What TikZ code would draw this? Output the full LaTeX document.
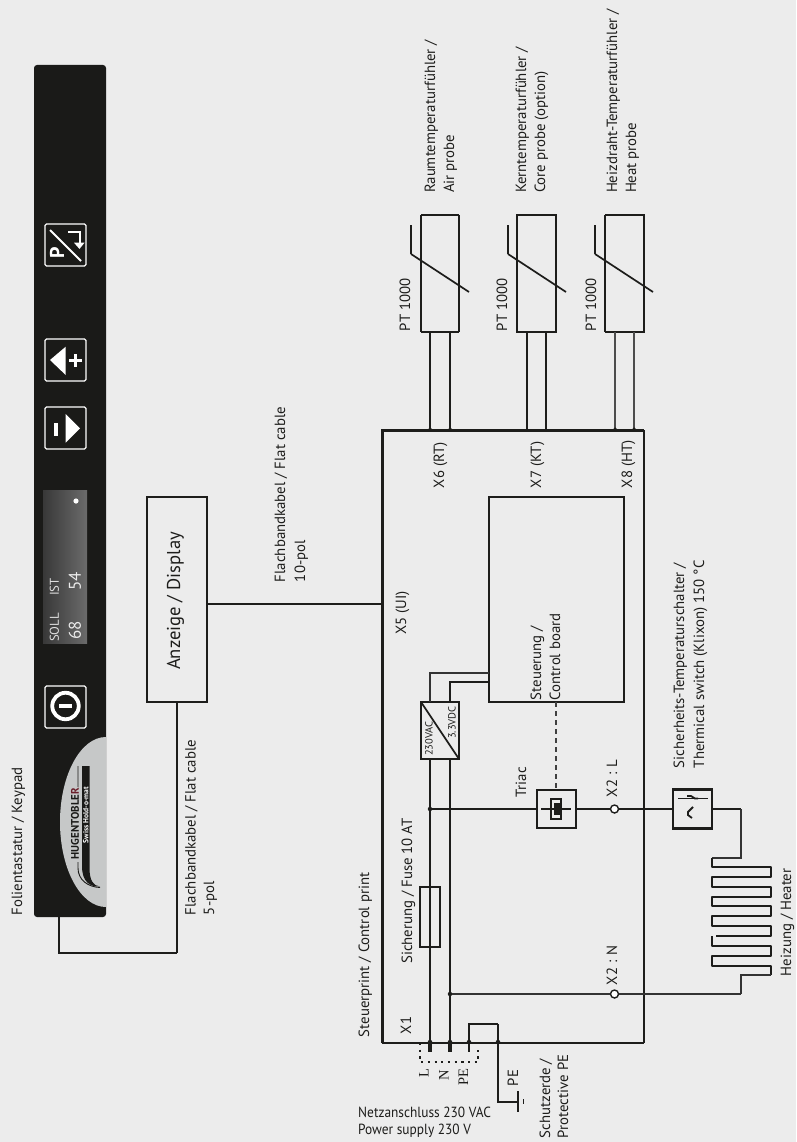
\documentclass[tikz,border=0pt]{standalone}
\usepackage{fontspec}
\setmainfont{PT Sans}
\newfontfamily\serifX{Liberation Serif}
\newfontfamily\condf[FakeStretch=0.91]{PT Sans}
\usetikzlibrary{calc}
\definecolor{bgc}{HTML}{ECECEC}
\definecolor{ink}{HTML}{1D1D1B}
\definecolor{panel}{HTML}{1A1A18}
\definecolor{logoc}{HTML}{C6C8C8}
\tikzset{
  lbl/.style={rotate=90,anchor=west,inner sep=0pt,outer sep=0pt,text=ink,font=\fontsize{14.8}{16}\selectfont,text height=10pt,text depth=2pt},
  lblc/.style={lbl,anchor=center},
  thin wire/.style={draw=ink,line width=1.15pt},
  mid wire/.style={draw=ink,line width=1.9pt},
  thick wire/.style={draw=ink,line width=2.6pt},
  boxn/.style={draw=ink,line width=2.3pt,inner sep=0pt,outer sep=0pt,anchor=north west,fill=none},
  dot/.style={circle,fill=ink,inner sep=0pt,minimum size=4.5pt},
  term/.style={circle,draw=ink,fill=white,line width=1.4pt,inner sep=0pt,minimum size=8pt},
  btn/.style={draw=white,line width=1.1pt,rounded corners=1.5pt,fill=none,inner sep=0pt,outer sep=0pt,anchor=north west,minimum width=41pt,minimum height=42pt},
}
\begin{document}
\begin{tikzpicture}[x=1pt,y=-1pt]
\useasboundingbox (0,0) rectangle (796,1142);
\fill[bgc] (0,0) rectangle (796,1142);

% ---- keypad
\node[fill=panel,rounded corners=3pt,inner sep=0pt,outer sep=0pt,anchor=north west,minimum width=72pt,minimum height=852pt] (keypad) at (34,65) {};
\begin{scope}
\clip (34,65) rectangle (106,917);
\fill[logoc] (106,822) ellipse [x radius=46,y radius=85];
\fill[panel] (82,766) -- (89.5,766) -- (89.5,868) .. controls (89.5,880) and (93,886) .. (100,886.5) .. controls (90,887) and (82,882) .. (82,866) -- cycle;
\draw[panel,line width=.9pt] (78,766) -- (78,787) (78,862) -- (78,868) .. controls (78,880) and (88,887) .. (100,887.5);
\end{scope}
\node[rotate=90,anchor=center,inner sep=0pt,text=panel,font=\fontsize{11}{12}\bfseries\selectfont] (logoa) at (75,823.5) {HUGENTOBLE\textcolor[HTML]{6A1F2B}{R}};
\node[rotate=90,anchor=center,inner sep=0pt,text=white,font=\fontsize{7.5}{8}\bfseries\selectfont] (logob) at (85.7,815) {Swiss Hold-o-mat};

% power button
\node[btn] (bpow) at (45,686) {};
\node[circle,draw=white,line width=3.8pt,fill=none,minimum size=26.5pt,inner sep=0pt] (bpowc) at (65.5,706) {};
\fill[white] (59,704) rectangle (72,708);

% P button
\node[btn] (bp) at (45,224) {};
\draw[white,line width=2pt] (50,230) -- (81,261);
\node[rotate=90,text=white,inner sep=0pt,font=\fontsize{20}{20}\bfseries\selectfont] (bpP) at (57,253) {P};
\draw[white,line width=2pt] (68.3,231.7) -- (80,231.7) -- (80,243);
\fill[white] (74,242.7) -- (84.5,242.7) -- (79.5,249) -- cycle;

% plus button
\node[btn] (bplus) at (45,339) {};
\fill[white] (50,360) -- (65.7,346.7) -- (65.7,375) -- cycle;
\fill[white] (69,358.6) rectangle (82,361.6);
\fill[white] (74,353.5) rectangle (77,366.5);

% minus button
\node[btn] (bminus) at (45,407) {};
\fill[white] (54,423.3) rectangle (58.3,436);
\fill[white] (65.7,414) -- (65.7,442.7) -- (80,428.3) -- cycle;

% display in keypad
\node[inner sep=0pt,outer sep=0pt,anchor=north west,minimum width=44pt,minimum height=153pt,left color=black!78,right color=black!58] (disp) at (43,490) {};
\fill[white] (76,501) circle (2.6);
\node[rotate=90,anchor=west,inner sep=0pt,text=white!88!black,font=\fontsize{12.8}{13}\selectfont] (tsoll) at (54.5,642) {SOLL};
\node[rotate=90,anchor=west,inner sep=0pt,text=white!88!black,font=\fontsize{12.8}{13}\selectfont] (tist) at (54.5,596) {IST};
\node[rotate=90,anchor=west,inner sep=0pt,text=white!92!black,font=\fontsize{17}{17}\selectfont] (t68) at (75,639.5) {68};
\node[rotate=90,anchor=west,inner sep=0pt,text=white!92!black,font=\fontsize{17}{17}\selectfont] (t54) at (75,591) {54};

\node[lbl] (lkey) at (18,915) {Folientastatur / Keypad};

% ---- Anzeige
\node[boxn,minimum width=60pt,minimum height=205pt] (anz) at (147,497) {};
\node[lblc,font=\fontsize{18.6}{20}\selectfont] (anzt) at (176,601) {Anzeige / Display};
\coordinate (kpout) at (59,917);
\coordinate (kpbend) at (59,953);
\coordinate (anzout) at (177,702);
\coordinate (anzr) at (207,604);
\draw[thin wire] (kpout) -- (kpbend) -- (177,953);
\draw[mid wire] (177,953) -- (anzout);
\node[lbl] (lflat5a) at (191.5,915) {Flachbandkabel / Flat cable};
\node[lbl] (lflat5b) at (210,915) {5-pol};
\node[lbl] (lflat10a) at (281,582) {Flachbandkabel / Flat cable};
\node[lbl] (lflat10b) at (301,582) {10-pol};

% ---- frame
\coordinate (ftl) at (382,430);
\coordinate (ftr) at (644,430);
\coordinate (fbr) at (644,1043);
\coordinate (fbl) at (382,1043);
\draw[draw=ink,line width=1.4pt] (fbl) -- (fbr);
\draw[draw=ink,line width=2pt] (ftr) -- (fbr);
\draw[draw=ink,line width=3pt,line cap=butt] (fbl) -- (ftl) -- (ftr);
\draw[mid wire] (anzr) -- (anzr -| ftl);
\node[lbl] (lprint) at (365,1037) {Steuerprint / Control print};
\node[lbl] (lx1) at (407,1034) {X1};
\node[lblc] (lx5) at (402,613) {X5 (UI)};
\node[lbl] (lx6) at (440,488) {X6 (RT)};
\node[lbl] (lx7) at (537,488) {X7 (KT)};
\node[lbl] (lx8) at (628,488) {X8 (HT)};

% ---- probes
\node[boxn,draw=none,minimum width=38pt,minimum height=117pt] (rt) at (421,215) {};
\draw[ink,line width=1.2pt] (rt.north west) -- (rt.north east) (rt.south west) -- (rt.south east);
\draw[ink,line width=2.3pt] (rt.north west) -- (rt.south west) (rt.north east) -- (rt.south east);
\node[boxn,draw=none,minimum width=39pt,minimum height=117pt] (kt) at (517,215) {};
\draw[ink,line width=1.2pt] (kt.north west) rectangle (kt.south east);
\node[boxn,draw=none,minimum width=39pt,minimum height=117pt] (ht) at (605,215) {};
\draw[ink,line width=1.2pt] (ht.north west) -- (ht.north east) -- (ht.south east) -- (ht.south west);
\draw[ink,line width=2.3pt] (ht.north west) -- (ht.south west);

\coordinate (rta) at (430,332); \coordinate (rtb) at (450,332);
\coordinate (kta) at (527,332); \coordinate (ktb) at (546,332);
\coordinate (hta) at (615,332); \coordinate (htb) at (634,332);
\draw[thin wire] (rta) -- (rta |- ftl) (rtb) -- (rtb |- ftl);
\draw[thick wire] (kta) -- (kta |- ftl) (ktb) -- (ktb |- ftl);
\draw[draw=black!70,line width=1.4pt] (hta) -- (hta |- ftl) (htb) -- (htb |- ftl);
\foreach \n/\x in {d1/430,d2/450,d5/615,d6/634}{\node[dot,minimum size=3.5pt] (\n) at (\x,429) {};}

\draw[ink,line width=1.2pt] (411,225) -- (411,254);
\draw[ink,line width=1.7pt] (411,254) -- (469,292);
\draw[ink,line width=2.3pt] (508,225) -- (508,254);
\draw[ink,line width=1.7pt] (508,254) -- (566,292);
\draw[ink,line width=1.2pt] (595,225) -- (595,254);
\draw[ink,line width=1.7pt] (595,254) -- (653,292);

\node[lbl] (lpt1) at (406,331) {PT 1000};
\node[lbl] (lpt2) at (503,331) {PT 1000};
\node[lbl] (lpt3) at (592,331) {PT 1000};
\node[lbl] (lra) at (431,193) {Raumtemperaturfühler /};
\node[lbl] (lrb) at (450,193) {Air probe};
\node[lbl] (lka) at (522,193) {Kerntemperaturfühler /};
\node[lbl] (lkb) at (541,193) {Core probe (option)};
\node[lbl] (lha) at (613,193) {Heizdraht-Temperaturfühler /};
\node[lbl] (lhb) at (632,193) {Heat probe};

% ---- control board
\node[boxn,minimum width=135pt,minimum height=205pt] (ctrl) at (489,497) {};
\node[lbl] (lc1) at (537,700) {Steuerung /};
\node[lbl] (lc2) at (556,700) {Control board};

% ---- converter
\node[boxn,minimum width=38pt,minimum height=57pt] (conv) at (421,702) {};
\draw[ink,line width=1.7pt] (conv.north west) -- (conv.south east);
\node[rotate=90,anchor=west,inner sep=0pt,text=ink,font=\fontsize{10.5}{11}\selectfont] (lv1) at (429,756) {230VAC};
\node[rotate=90,anchor=west,inner sep=0pt,text=ink,font=\fontsize{10.5}{11}\selectfont] (lv2) at (452,739) {3.3VDC};
\coordinate (ci) at (430,702); \coordinate (cj) at (450,702);
\draw[draw=black!80,line width=1.2pt] (ci) |- (ctrl.west |- 0,673);
\draw[draw=ink,line width=1.8pt] (cj) |- (ctrl.west |- 0,682);

% ---- mains wires
\coordinate (co) at (430,759); \coordinate (cp) at (450,759);
\node[dot] (jl0) at (430,1042) {};
\node[dot] (jn0) at (450,1042) {};
\node[dot] (jpe) at (469,1042) {};
\node[dot] (jpe2) at (498,1042) {};
\draw[thin wire] (co) -- (jl0);
\draw[thin wire] (cp) -- (jn0);
\node[draw=ink,line width=2.3pt,inner sep=0pt,outer sep=0pt,anchor=north west,minimum width=20pt,minimum height=60pt] (fuse) at (420,887) {};
\node[lblc] (lfuse) at (408,891) {Sicherung / Fuse 10 AT};

% ---- L line, triac
\node[dot] (jl) at (430,809) {};
\node[draw=ink,line width=2.2pt,inner sep=0pt,outer sep=0pt,anchor=north west,minimum width=39pt,minimum height=38pt] (triac) at (537,790) {};
\node[term] (x2l) at (614.5,809) {};
\node[dot,minimum size=3.5pt] (jfl) at (644,809) {};
\node[draw=ink,line width=2.2pt,inner sep=0pt,outer sep=0pt,anchor=north west,minimum width=39pt,minimum height=39pt] (sw) at (673,789.5) {};
\draw[thick wire] (jl) -- (triac.west);
\draw[thick wire] (triac.east) -- (x2l);
\draw[thick wire] (x2l) -- (sw.west);
\draw[ink,line width=1.9pt] (541,809) -- (571,809);
\draw[ink,line width=1.1pt] (551,799) rectangle (561,819);
\fill[ink] (554,803) rectangle (560,815);
\draw[draw=black!75,line width=1.3pt,dash pattern=on 5pt off 4pt] (556,702) -- (556,790);
\node[lbl] (ltriac) at (522,797) {Triac};
\node[lbl] (lx2l) at (613,797) {X2 : L};

% ---- switch symbol
\draw[ink,line width=1pt] (678,798.5) -- (708,798.5);
\draw[ink,line width=1.8pt] (687,796) -- (691,796) -- (695,798.5) -- (698,798.5);
\draw[ink,line width=1.8pt] (693,807) -- (688,812) -- (688,815) -- (692,818);
\node[lbl] (lsw1) at (680,768) {Sicherheits-Temperaturschalter /};
\node[lbl] (lsw2) at (700,768) {Thermical switch (Klixon) 150 °C};

% ---- heater
\draw[draw=ink,line width=2.2pt] (sw.east) -- (741,809);
\draw[draw=black!80,line width=1.3pt] (741,809) -- (741,858) -- (712,858);
\draw[draw=ink,line width=2.2pt,line join=round] (712,858) -- (712,867) -- (771,867) -- (771,877) -- (712,877) -- (712,887) -- (771,887) -- (771,897) -- (712,897) -- (712,906) -- (771,906) -- (771,916) -- (712,916) -- (712,926) -- (771,926) -- (771,936) -- (716,936) (712,936) -- (712,946) -- (771,946) -- (771,956) -- (712,956) -- (712,966) -- (771,966) -- (771,975);
\draw[draw=black!80,line width=1.3pt] (771,975) -- (741,975) -- (741,994);
\node[lbl] (lheat) at (787,976) {Heizung / Heater};

% ---- N line
\node[dot] (jn) at (450,994) {};
\node[term] (x2n) at (614.5,994) {};
\node[dot,minimum size=3.5pt] (jfn) at (644,994) {};
\coordinate (hn) at (741,994);
\draw[draw=black!80,line width=1.3pt] (jn) -- (x2n) -- (hn);
\node[lbl] (lx2n) at (613,985) {X2 : N};

% ---- PE
\coordinate (gnd) at (518,1102);
\draw[draw=ink,line width=1.6pt] (jpe) -- (469,1024) -- (498,1024);
\draw[thick wire,line join=miter] (498,1024) -- (498,1102) -- (gnd);
\draw[ink,line width=2.4pt] (518,1091) -- (518,1112);
\draw[ink,line width=1pt] (523.5,1099) -- (523.5,1104);
\node[lbl] (lpe) at (514,1086) {PE};
\node[lbl] (lse1) at (546,1138) {Schutzerde /};
\node[lbl] (lse2) at (564,1138) {Protective PE};

% terminal stubs
\draw[ink,line width=4pt] (jl0) -- (430,1052);
\draw[ink,line width=4pt] (jn0) -- (450,1052);
\draw[ink,line width=1.7pt] (jpe) -- (469,1052);
\draw[ink,line width=2.4pt,dash pattern=on 2.2pt off 4.5pt] (420,1043) -- (420,1062) -- (478,1062) -- (478,1047);
\node[lblc,font=\fontsize{14.5}{15}\serifX\selectfont] (tl) at (424.5,1073) {L};
\node[lblc,font=\fontsize{14.5}{15}\serifX\selectfont] (tn) at (444.5,1075) {N};
\node[lblc,font=\fontsize{14.5}{15}\serifX\selectfont] (tpe) at (464,1077) {PE};

% ---- supply text
\node[anchor=west,inner sep=0pt,text=ink,font=\fontsize{14.7}{16}\condf\selectfont] (ls1) at (358,1112) {Netzanschluss 230 VAC};
\node[anchor=west,inner sep=0pt,text=ink,font=\fontsize{14.7}{16}\condf\selectfont] (ls2) at (358,1131) {Power supply 230 V};
\end{tikzpicture}
\end{document}
